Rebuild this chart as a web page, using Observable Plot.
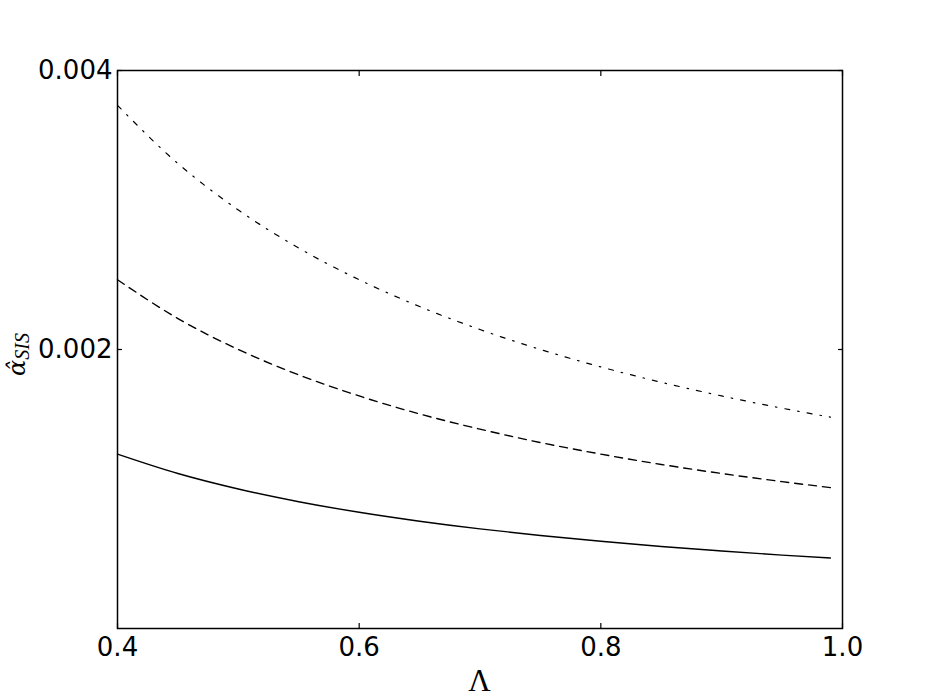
<!DOCTYPE html>
<html>
<head>
<meta charset="utf-8">
<script src="https://cdn.jsdelivr.net/npm/d3@7"></script>
<script src="https://cdn.jsdelivr.net/npm/@observablehq/plot@0.6"></script>
<style>
  html, body { margin: 0; padding: 0; background: #fff; }
</style>
</head>
<body>
<div id="chart"></div>
<script>
// Λ sample positions
const lambda = [0.40, 0.45, 0.50, 0.55, 0.60, 0.65, 0.70, 0.75, 0.80, 0.85, 0.90, 0.95, 0.99];
// solid curve
const alphaSolid = [0.001250, 0.001111, 0.001000, 0.000909, 0.000833, 0.000769, 0.000714, 0.000667, 0.000625, 0.000588, 0.000556, 0.000526, 0.000505];
// dashed curve
const alphaDashed = [0.002500, 0.002222, 0.002000, 0.001818, 0.001667, 0.001538, 0.001429, 0.001333, 0.001250, 0.001176, 0.001111, 0.001053, 0.001010];
// dash-dot curve
const alphaDashDot = [0.003750, 0.003333, 0.003000, 0.002727, 0.002500, 0.002308, 0.002143, 0.002000, 0.001875, 0.001765, 0.001667, 0.001579, 0.001515];

const xTicks = [0.4, 0.6, 0.8, 1.0];
const xTickLabels = ["0.4", "0.6", "0.8", "1.0"];
const yTicks = [0.002, 0.004];
const yTickLabels = ["0.002", "0.004"];
const xTitle = "Λ";
const yTitleMain = "α\u0302";
const yTitleSub = "SIS";

const rows = (vals) => lambda.map((l, i) => ({lambda: l, alpha: vals[i]}));

const lineOpts = {x: "lambda", y: "alpha", stroke: "black", strokeWidth: 1.4, curve: "monotone-x"};

const plot = Plot.plot({
  width: 935,
  height: 698,
  marginLeft: 117,
  marginRight: 93,
  marginTop: 70,
  marginBottom: 70,
  x: {domain: [0.4, 1.0]},
  y: {domain: [0, 0.004]},
  style: {fontFamily: "DejaVu Sans", fontSize: "26px", background: "white", color: "black"},
  marks: [
    Plot.line(rows(alphaSolid), {...lineOpts}),
    Plot.line(rows(alphaDashed), {...lineOpts, strokeDasharray: "8,6"}),
    Plot.line(rows(alphaDashDot), {...lineOpts, strokeWidth: 1.2, strokeDasharray: "5,8,1.6,8"}),
    // inward tick marks on all four sides
    Plot.axisX(xTicks, {anchor: "bottom", tickSize: -5, fill: "none", label: null, strokeWidth: 1.2}),
    Plot.axisX(xTicks, {anchor: "top", tickSize: -5, fill: "none", label: null, strokeWidth: 1.2}),
    Plot.axisY(yTicks, {anchor: "left", tickSize: -5, fill: "none", label: null, strokeWidth: 1.2}),
    Plot.axisY(yTicks, {anchor: "right", tickSize: -5, fill: "none", label: null, strokeWidth: 1.2}),
    // tick labels
    Plot.axisX(xTicks, {anchor: "bottom", tickSize: 0, tickPadding: 9, label: null,
      tickFormat: (d) => xTickLabels[xTicks.indexOf(d)]}),
    Plot.axisY(yTicks, {anchor: "left", tickSize: 0, tickPadding: 5, label: null,
      tickFormat: (d) => yTickLabels[yTicks.indexOf(d)]}),
    Plot.frame({stroke: "black", strokeWidth: 1.5})
  ]
});

const svg = d3.select(plot);
// x axis title
svg.append("text")
  .attr("x", 479.5)
  .attr("y", 691)
  .attr("text-anchor", "middle")
  .attr("font-family", "Liberation Serif, DejaVu Serif, serif")
  .attr("font-size", 31)
  .attr("fill", "black")
  .text(xTitle);
// y axis title (rotated, with subscript)
const yt = svg.append("text")
  .attr("transform", "translate(25,354.5) rotate(-90)")
  .attr("text-anchor", "middle")
  .attr("font-style", "italic")
  .attr("fill", "black");
yt.append("tspan")
  .attr("font-family", "DejaVu Serif, serif")
  .attr("font-size", 24)
  .text(yTitleMain);
yt.append("tspan")
  .attr("dy", 4)
  .attr("font-family", "Liberation Serif, DejaVu Serif, serif")
  .attr("font-size", 20)
  .text(yTitleSub);

document.getElementById("chart").appendChild(plot);
</script>
</body>
</html>
